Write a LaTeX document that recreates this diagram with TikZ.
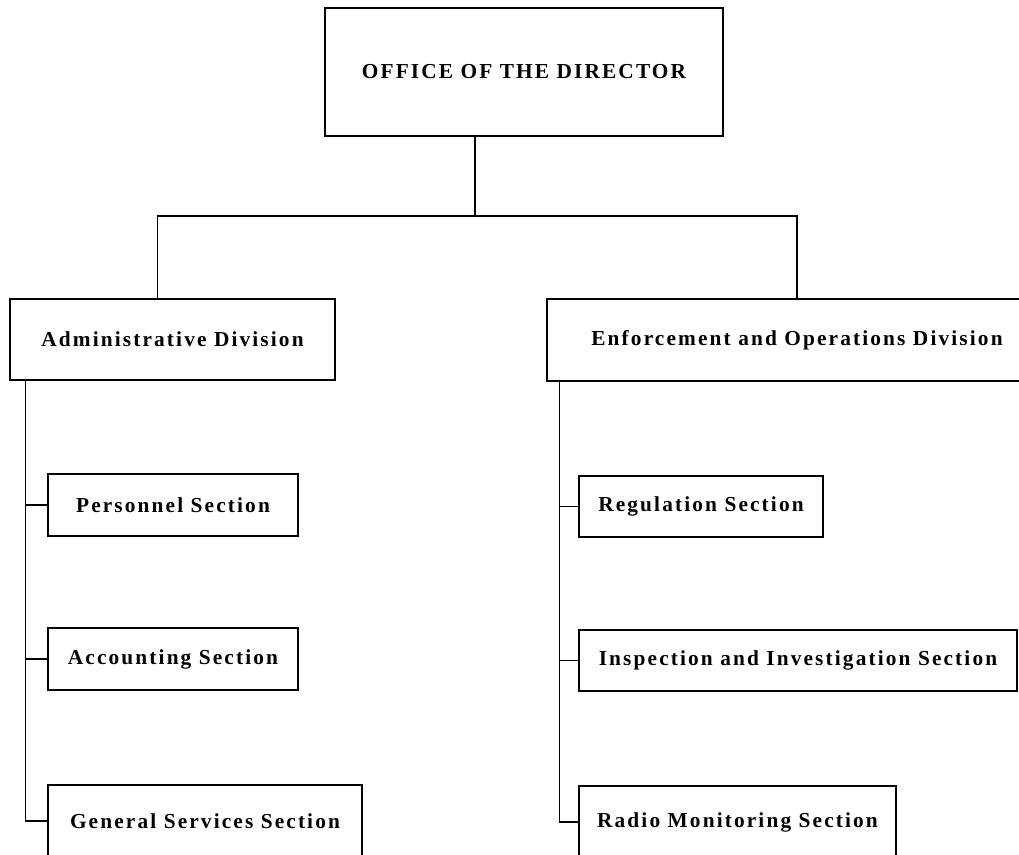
\documentclass[tikz,border=0pt]{standalone}
\usepackage{fontspec}
\setmainfont{Liberation Serif}[LetterSpace=10]
\usetikzlibrary{calc}

\begin{document}
\begin{tikzpicture}[x=0.75pt,y=-0.75pt,line width=1.1pt,
	unit/.style={draw,inner sep=0pt,font=\bfseries\fontsize{16}{19}\selectfont},
	sized/.style 2 args={minimum width=#1*0.75pt,minimum height=#2*0.75pt}]

\useasboundingbox (0,0) rectangle (1019,854);

\node[unit,sized={398}{128}]   (dir)   at (524,72)     {OFFICE OF THE DIRECTOR};
\node[unit,sized={325}{81}]    (adm)   at (172.5,339.5) {Administrative Division};
\node[unit,sized={500}{82}]    (eod)   at (797,340)    {Enforcement and Operations Division};

\node[unit,sized={250}{62}]    (pers)  at (173,505)    {Personnel Section};
\node[unit,sized={250}{62}]    (acct)  at (173,659)    {Accounting Section};
\node[unit,sized={314}{72}]    (gss)   at (205,821)    {General Services Section};

\node[unit,sized={244}{61}]    (reg)   at (701,506.5)  {Regulation Section};
\node[unit,sized={438}{61}]    (insp)  at (798,660.5)  {Inspection and Investigation Section};
\node[unit,sized={317}{72}]    (radio) at (737.5,822)  {Radio Monitoring Section};

\coordinate (hub) at (475,216);
\coordinate (admtop) at ($(adm.north west)+(148,0)$);
\coordinate (lspine) at ($(adm.south west)+(16,0)$);
\coordinate (rspine) at ($(eod.south west)+(13,0)$);

\draw (dir.south -| hub) -- (hub);
\draw (admtop) |- (hub) -| (eod.north);

\draw (lspine) |- (gss.west);
\draw (lspine |- pers.west) -- (pers.west);
\draw (lspine |- acct.west) -- (acct.west);

\draw (rspine) |- (radio.west);
\draw (rspine |- reg.west) -- (reg.west);
\draw (rspine |- insp.west) -- (insp.west);
\end{tikzpicture}
\end{document}
